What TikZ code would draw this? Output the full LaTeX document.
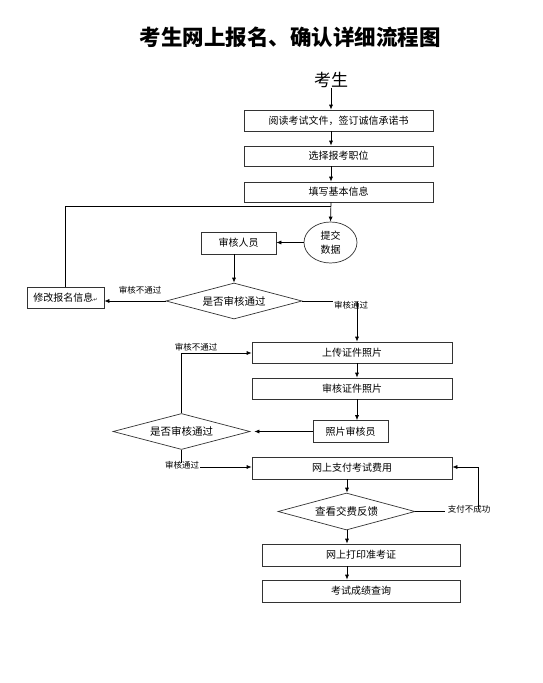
\documentclass[tikz,border=0pt]{standalone}
\usepackage{fontspec}
\setmainfont{Noto Sans CJK SC}
\newfontfamily\dejavu{DejaVu Sans}
\usetikzlibrary{shapes.geometric,arrows.meta}
\tikzset{
  box/.style={draw=black!80,line width=0.7pt,rectangle,inner sep=0pt,font=\fontsize{10}{12}\selectfont},
  dia/.style={draw=black!80,line width=0.7pt,diamond,aspect=3.8,inner sep=0pt,font=\fontsize{10.5}{12}\selectfont},
  lbl/.style={inner sep=0pt,font=\fontsize{8.5}{10}\selectfont},
  arr/.style={line width=0.7pt,-{Latex[length=5pt,width=4pt]}},
  ln/.style={line width=0.7pt},
}
\begin{document}
\begin{tikzpicture}[x=1pt,y=-1pt]
\useasboundingbox (0,0) rectangle (543,683);
\fill[white] (0,0) rectangle (543,683);
% title
\node[inner sep=0pt,font=\fontsize{21.5}{24}\selectfont\bfseries] (title) at (290,37) {考生网上报名、确认详细流程图};
\node[inner sep=0pt,font=\fontsize{17}{20}\selectfont] (k) at (331,80) {考生};
% boxes
\node[box,minimum width=189pt,minimum height=21pt] (b1) at (338.5,120.5) {阅读考试文件，签订诚信承诺书};
\node[box,minimum width=189pt,minimum height=20pt] (b2) at (338.5,156) {选择报考职位};
\node[box,minimum width=189pt,minimum height=20pt] (b3) at (338.5,192) {填写基本信息};
\node[draw=black!80,line width=0.7pt,ellipse,inner sep=0pt,minimum width=53pt,minimum height=41pt,align=center,font=\fontsize{10}{14}\selectfont] (c) at (330.5,242.5) {提交\\数据};
\node[box,minimum width=75pt,minimum height=22pt] (r) at (238.5,243) {审核人员};
\node[dia,minimum width=136pt,minimum height=36pt] (d1) at (234,301) {是否审核通过};
\node[box,minimum width=77pt,minimum height=21pt] (m) at (65.5,297.5) {修改报名信息{\dejavu\fontsize{5}{6}\selectfont ↵}};
\node[box,minimum width=200pt,minimum height=21pt] (u) at (352,352.5) {上传证件照片};
\node[box,minimum width=200pt,minimum height=21pt] (cp) at (352,388.5) {审核证件照片};
\node[box,minimum width=75pt,minimum height=22pt] (pr) at (350.5,431.5) {照片审核员};
\node[dia,minimum width=137pt,minimum height=36pt] (d2) at (181.5,431.5) {是否审核通过};
\node[box,minimum width=200pt,minimum height=22pt] (p) at (352,468) {网上支付考试费用};
\node[dia,minimum width=137pt,minimum height=37pt] (d3) at (346.5,511.5) {查看交费反馈};
\node[box,minimum width=198pt,minimum height=22pt] (pt) at (361,555) {网上打印准考证};
\node[box,minimum width=198pt,minimum height=22pt] (s) at (361,591) {考试成绩查询};
% labels
\node[lbl] (l1) at (140,290) {审核不通过};
\node[lbl] (l2) at (351,305) {审核通过};
\node[lbl] (l3) at (196,347) {审核不通过};
\node[lbl] (l4) at (182,465) {审核通过};
\node[lbl] (l5) at (469,509) {支付不成功};
% coordinates
\coordinate (j) at (331,206);
\coordinate (ux) at (357,0);
\coordinate (px) at (347,0);
\coordinate (fx) at (478,0);
% main column
\draw[arr] (k.south) -- (k.south |- b1.north);
\draw[arr] (b1.south -| j) -- (b2.north -| j);
\draw[arr] (b2.south -| j) -- (b3.north -| j);
\draw[arr] (b3.south -| j) -- (c.north);
\draw[ln] (m.north) |- (j);
\draw[arr] (c.west) -- (r.east |- c.west);
\draw[arr] (r.south -| d1.north) -- (d1.north);
\draw[arr] (d1.west) -- (d1.west -| m.east);
\draw[ln] (d1.east) -- ([xshift=-1pt]l2.west |- d1.east);
\draw[arr] ([yshift=7pt]l2.south -| ux) -- (u.north -| ux);
\draw[arr] (u.south -| ux) -- (cp.north -| ux);
\draw[arr] (cp.south -| ux) -- (pr.north -| ux);
\draw[arr] (pr.west) -- ([xshift=4pt]d2.east |- pr.west);
\draw[arr] (d2.north) |- (u.west |- 0,353);
\draw[ln] (d2.south) -- ([yshift=-2pt]l4.north -| d2.south);
\draw[arr] ([xshift=1pt]l4.east |- 0,467) -- (p.west |- 0,467);
\draw[arr] (p.south -| px) -- (d3.north -| px);
\draw[ln] (d3.east) -- ([xshift=-3pt]l5.west |- d3.east);
\draw[arr] ([yshift=-4pt]l5.north -| fx) |- (p.east |- 0,467);
\draw[arr] (d3.south -| px) -- (pt.north -| px);
\draw[arr] (pt.south -| px) -- (s.north -| px);
\end{tikzpicture}
\end{document}
